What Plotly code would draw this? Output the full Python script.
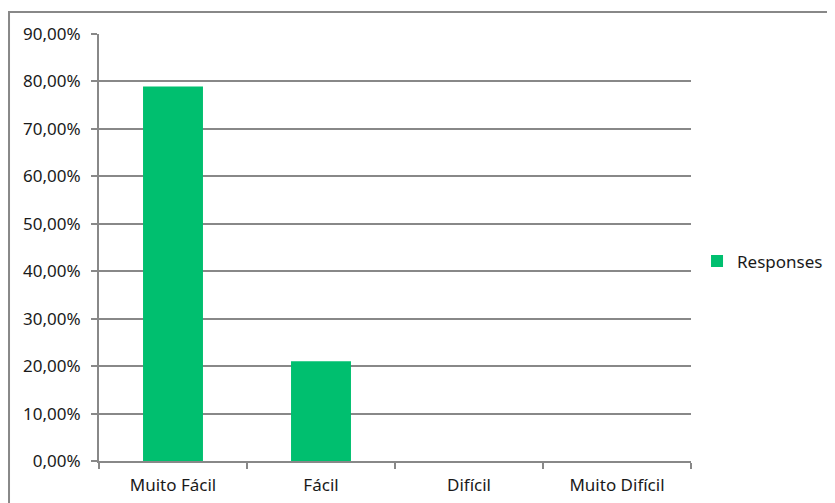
import plotly.graph_objects as go

categories = ["Muito Fácil", "Fácil", "Difícil", "Muito Difícil"]
responses = [78.95, 21.05, 0, 0]
tick_vals = [0, 10, 20, 30, 40, 50, 60, 70, 80, 90]
tick_text = ["0,00%", "10,00%", "20,00%", "30,00%", "40,00%", "50,00%",
             "60,00%", "70,00%", "80,00%", "90,00%"]

fig = go.Figure()
fig.add_trace(go.Bar(x=categories, y=responses, name="Responses",
                     marker=dict(color="#00BF6F", line=dict(width=0)),
                     showlegend=True))

grid = "#888888"
fig.update_layout(
    width=819, height=495,
    margin=dict(l=91, r=136, t=26, b=42),
    paper_bgcolor="white", plot_bgcolor="white",
    font=dict(family="Noto Sans, Open Sans, sans-serif", size=17, color="#1a1a1a"),
    bargap=0.595,
    showlegend=True,
    legend=dict(xref="container", yref="container", x=0.8413, y=0.488,
                xanchor="left", yanchor="middle",
                font=dict(size=17), itemwidth=30),
    xaxis=dict(showline=True, linecolor=grid, linewidth=2,
               ticks="outside", ticklen=6, tickcolor=grid, tickwidth=2,
               tickson="boundaries", showgrid=False, fixedrange=True,
               ticklabelstandoff=8, automargin=False),
    yaxis=dict(range=[0, 90], tickvals=tick_vals, ticktext=tick_text,
               showline=True, linecolor=grid, linewidth=2,
               ticks="outside", ticklen=6, tickcolor=grid, tickwidth=2,
               showgrid=True, gridcolor=grid, gridwidth=2, zeroline=False,
               ticklabelstandoff=7, automargin=False),
    shapes=[dict(type="rect", xref="paper", yref="paper",
                 x0=-0.152, x1=1.3, y0=-0.2, y1=1.0515,
                 line=dict(color="#888888", width=2), fillcolor="rgba(0,0,0,0)",
                 layer="below")],
)

fig.write_html("out.html")
